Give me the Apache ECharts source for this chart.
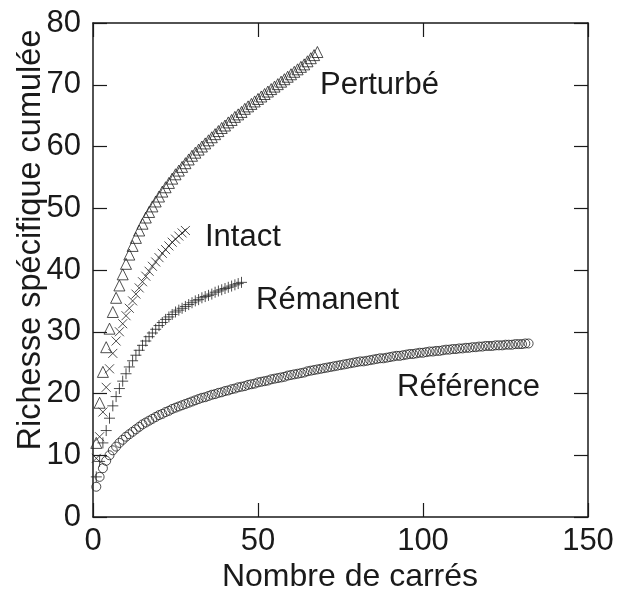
<!DOCTYPE html>
<html>
<head>
<meta charset="utf-8">
<script src="https://cdn.jsdelivr.net/npm/echarts@6/dist/echarts.min.js"></script>
<style>
  html, body { margin: 0; padding: 0; background: #fff; }
  #main { width: 617px; height: 594px; }
</style>
</head>
<body>
<div id="main"></div>
<script>
    // richesse cumulée, une valeur par carré (x = 1, 2, 3 ...)
    var referenceValues = [
        4.9, 6.5, 7.9, 9.1, 10.0, 10.8, 11.4, 12.0, 12.5, 13.0,
        13.4, 13.8, 14.2, 14.6, 15.0, 15.3, 15.6, 15.9, 16.2, 16.5,
        16.7, 17.0, 17.2, 17.5, 17.7, 17.9, 18.1, 18.3, 18.5, 18.7,
        18.9, 19.1, 19.3, 19.4, 19.6, 19.8, 19.9, 20.1, 20.2, 20.4,
        20.5, 20.7, 20.8, 21.0, 21.1, 21.2, 21.4, 21.5, 21.6, 21.8,
        21.9, 22.0, 22.1, 22.3, 22.4, 22.5, 22.6, 22.7, 22.9, 23.0,
        23.1, 23.2, 23.3, 23.4, 23.6, 23.7, 23.8, 23.9, 24.0, 24.1,
        24.2, 24.3, 24.4, 24.5, 24.6, 24.7, 24.8, 24.9, 25.0, 25.1,
        25.2, 25.2, 25.3, 25.4, 25.5, 25.6, 25.7, 25.7, 25.8, 25.9,
        26.0, 26.1, 26.1, 26.2, 26.3, 26.4, 26.4, 26.5, 26.6, 26.6,
        26.7, 26.8, 26.8, 26.9, 26.9, 27.0, 27.1, 27.1, 27.2, 27.2,
        27.3, 27.3, 27.4, 27.4, 27.5, 27.5, 27.6, 27.6, 27.7, 27.7,
        27.7, 27.8, 27.8, 27.8, 27.9, 27.9, 27.9, 28.0, 28.0, 28.0,
        28.1, 28.1
    ];
    var perturbeValues = [
        12.0, 18.5, 23.5, 27.5, 30.5, 33.2, 35.5, 37.5, 39.3, 41.0,
        42.5, 43.9, 45.2, 46.4, 47.5, 48.5, 49.4, 50.3, 51.1, 51.9,
        52.7, 53.4, 54.1, 54.8, 55.5, 56.1, 56.7, 57.3, 57.9, 58.5,
        59.0, 59.5, 60.0, 60.5, 61.0, 61.5, 62.0, 62.5, 63.0, 63.4,
        63.9, 64.3, 64.8, 65.2, 65.6, 66.1, 66.5, 66.9, 67.3, 67.7,
        68.1, 68.5, 68.9, 69.3, 69.7, 70.1, 70.5, 70.9, 71.3, 71.7,
        72.1, 72.5, 72.9, 73.3, 73.8, 74.3, 74.8, 75.3
    ];
    var intactValues = [
        9.5, 13.0, 17.0, 21.0, 24.0, 26.5, 28.5, 30.0, 31.3, 32.6,
        33.8, 35.0, 36.1, 37.1, 38.1, 39.0, 39.8, 40.6, 41.3, 42.0,
        42.7, 43.3, 43.9, 44.5, 45.0, 45.5, 46.0, 46.4
    ];
    var remanentValues = [
        6.5, 9.0, 12.0, 14.0, 16.0, 18.0, 19.5, 20.8, 22.0, 23.2,
        24.3, 25.3, 26.2, 27.0, 27.8, 28.5, 29.2, 29.8, 30.4, 31.0,
        31.5, 32.0, 32.4, 32.8, 33.2, 33.5, 33.8, 34.1, 34.4, 34.7,
        35.0, 35.2, 35.5, 35.7, 35.9, 36.1, 36.4, 36.6, 36.8, 37.0,
        37.2, 37.4, 37.6, 37.8, 38.0
    ];
    var xTicks = [0, 50, 100, 150];
    var yTicks = [0, 10, 20, 30, 40, 50, 60, 70, 80];

    var ink = '#1a1a1a';
    var font = '"Liberation Sans", Arial, sans-serif';

    function toPoints(values) {
        return values.map(function (v, i) { return [i + 1, v]; });
    }

    var chart = echarts.init(document.getElementById('main'));

    var markStyle = { color: 'none', borderColor: '#222', borderWidth: 1 };

    function axisX(pos, showLabel) {
        return {
            type: 'value', position: pos, min: xTicks[0], max: xTicks[xTicks.length - 1], interval: 50,
            splitLine: { show: false },
            axisLine: { show: true, onZero: false, lineStyle: { color: ink, width: 1.5 } },
            axisTick: { show: true, inside: true, length: 14, lineStyle: { color: ink, width: 1.2 } },
            axisLabel: { show: showLabel, color: ink, fontSize: 31, fontFamily: font, margin: 9 }
        };
    }
    function axisY(pos, showLabel) {
        return {
            type: 'value', position: pos, min: yTicks[0], max: yTicks[yTicks.length - 1], interval: 10,
            splitLine: { show: false },
            axisLine: { show: true, onZero: false, lineStyle: { color: ink, width: 1.5 } },
            axisTick: { show: true, inside: true, length: 14, lineStyle: { color: ink, width: 1.2 } },
            axisLabel: { show: showLabel, color: ink, fontSize: 31, fontFamily: font, margin: 12 }
        };
    }

    // titres des axes posés à la main (légèrement décentrés dans l'original)
    var titles = [
        { type: 'text', x: 350, y: 577, style: { text: 'Nombre de carrés', fill: ink, font: '32px ' + font, align: 'center', verticalAlign: 'middle' } },
        { type: 'text', x: 31, y: 240, rotation: Math.PI / 2, style: { text: 'Richesse spécifique cumulée', fill: ink, font: '32.5px ' + font, align: 'center', verticalAlign: 'middle' } }
    ];
    var curveLabels = [
        { type: 'text', left: 320, top: 70, style: { text: 'Perturbé', fill: ink, font: '31px ' + font } },
        { type: 'text', left: 205, top: 222, style: { text: 'Intact', fill: ink, font: '31px ' + font } },
        { type: 'text', left: 256, top: 285, style: { text: 'Rémanent', fill: ink, font: '31px ' + font } },
        { type: 'text', left: 397, top: 372, style: { text: 'Référence', fill: ink, font: '31px ' + font } }
    ];

    var option = {
        animation: false,
        backgroundColor: '#fff',
        grid: { left: 93, right: 29, top: 23, bottom: 77, containLabel: false, outerBoundsMode: 'none' },
        xAxis: [axisX('bottom', true), axisX('top', false)],
        yAxis: [axisY('left', true), axisY('right', false)],
        series: [
            {
                name: 'Référence', type: 'scatter', symbol: 'circle', symbolSize: 9,
                itemStyle: markStyle, data: toPoints(referenceValues)
            },
            {
                name: 'Perturbé', type: 'scatter', symbol: 'triangle', symbolSize: 11,
                itemStyle: markStyle, data: toPoints(perturbeValues)
            },
            {
                name: 'Intact', type: 'scatter', symbol: 'path://M0,0L10,10M0,10L10,0', symbolSize: 9,
                itemStyle: markStyle, data: toPoints(intactValues)
            },
            {
                name: 'Rémanent', type: 'scatter', symbol: 'path://M5,0L5,10M0,5L10,5', symbolSize: 11,
                itemStyle: markStyle, data: toPoints(remanentValues)
            }
        ],
        graphic: titles.concat(curveLabels)
    };

    chart.setOption(option);
</script>
</body>
</html>
